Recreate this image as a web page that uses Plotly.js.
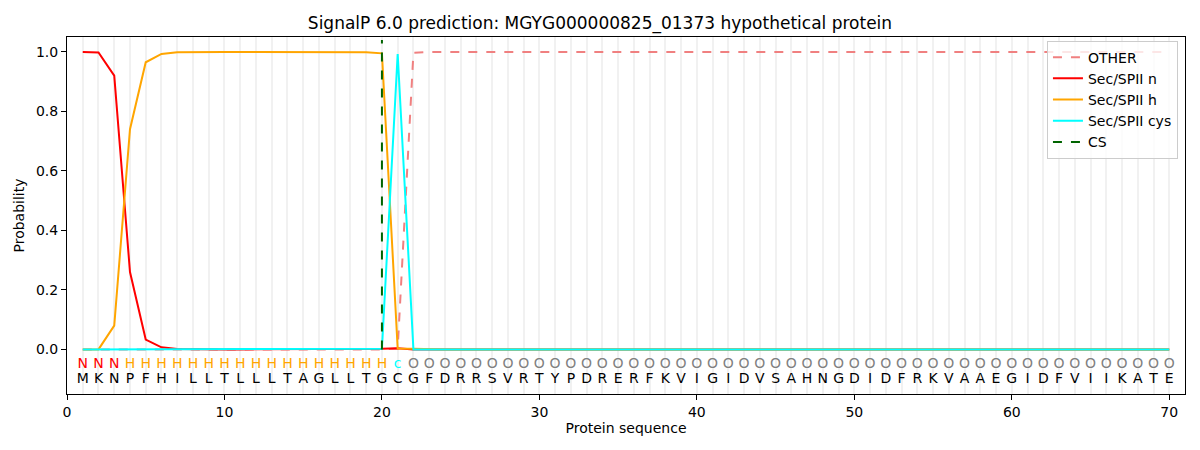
<!DOCTYPE html>
<html>
<head>
<meta charset="utf-8">
<script src="https://cdn.plot.ly/plotly-3.0.1.min.js"></script>
<style>html,body{margin:0;padding:0;background:#fff;}#chart{width:1200px;height:450px;}</style>
</head>
<body>
<div id="chart"></div>
<script>
const sequence = "MKNPFHILLTLLLTAGLLTGCGFDRRSVRTYPDRERFKVIGIDVSAHNGDIDFRKVAAEGIDFVIIKATE".split("");
const positions = sequence.map((_, i) => i + 1);
const regionLabels = ["N","N","N"].concat(Array(17).fill("H"), ["c"], Array(49).fill("O"));
const labelColorMap = {N: "red", H: "orange", c: "cyan", O: "grey"};

const otherVals = Array(20).fill(0).concat([0.003, 0.997], Array(48).fill(1.0));
const nVals = [1.0, 0.998, 0.92, 0.26, 0.033, 0.007, 0.001].concat(Array(12).fill(0), [0.002, 0.004], Array(49).fill(0));
const hVals = [0, 0.0, 0.08, 0.74, 0.965, 0.993, 0.999].concat(Array(11).fill(1.0), [0.999, 0.995, 0.003, 0.002], Array(48).fill(0));
const cysVals = Array(19).fill(0).concat([0.002, 0.993], Array(49).fill(0));
const csPos = [20, 20];
const csVals = [0, 1.04];

const font = "DejaVu Sans, sans-serif";
const traces = [
  {x: positions, y: otherVals, mode: "lines", name: "OTHER", line: {color: "#F08080", width: 2, dash: "dash"}},
  {x: positions, y: nVals, mode: "lines", name: "Sec/SPII n", line: {color: "red", width: 2}},
  {x: positions, y: hVals, mode: "lines", name: "Sec/SPII h", line: {color: "orange", width: 2}},
  {x: positions, y: cysVals, mode: "lines", name: "Sec/SPII cys", line: {color: "cyan", width: 2}},
  {x: csPos, y: csVals, mode: "lines", name: "CS", line: {color: "darkgreen", width: 2, dash: "dash"}},
  {x: positions, y: positions.map(() => -0.05), mode: "text", text: regionLabels, showlegend: false, hoverinfo: "skip",
   textfont: {family: font, size: 14, color: regionLabels.map(l => labelColorMap[l])}},
  {x: positions, y: positions.map(() => -0.1), mode: "text", text: sequence, showlegend: false, hoverinfo: "skip",
   textfont: {family: font, size: 14, color: "black"}}
];

const layout = {
  width: 1200, height: 450,
  margin: {l: 67, r: 15, t: 37, b: 56},
  paper_bgcolor: "white", plot_bgcolor: "white",
  font: {family: font, size: 14, color: "black"},
  title: {text: "SignalP 6.0 prediction: MGYG000000825_01373 hypothetical protein", font: {family: font, size: 17}, x: 0.5, xanchor: "center", y: 0.949, yanchor: "middle"},
  xaxis: {range: [0, 71], tickvals: [0,10,20,30,40,50,60,70], ticks: "outside", ticklen: 5, tickcolor: "black",
    showline: true, linecolor: "black", mirror: true, zeroline: false,
    showgrid: true, gridcolor: "#f1f1f1", gridwidth: 2,
    minor: {dtick: 1, tick0: 0, showgrid: true, gridcolor: "#f1f1f1", gridwidth: 2, ticks: ""},
    title: {text: "Protein sequence", font: {family: font, size: 14}, standoff: 4}, tickfont: {size: 14}},
  yaxis: {range: [-0.15, 1.05], tickvals: [0, 0.2, 0.4, 0.6, 0.8, 1.0], tickformat: ".1f", ticks: "outside", ticklen: 5, tickcolor: "black",
    showline: true, linecolor: "black", mirror: true, zeroline: false, showgrid: false,
    title: {text: "Probability", font: {family: font, size: 14}, standoff: 8}, tickfont: {size: 14}},
  legend: {x: 0.9937, xanchor: "right", y: 0.99, yanchor: "top", bgcolor: "rgba(255,255,255,0.8)", bordercolor: "#cccccc", borderwidth: 1,
    font: {family: font, size: 14}, tracegroupgap: 0},
  showlegend: true
};
Plotly.newPlot("chart", traces, layout, {displayModeBar: false, staticPlot: true});
</script>
</body>
</html>
